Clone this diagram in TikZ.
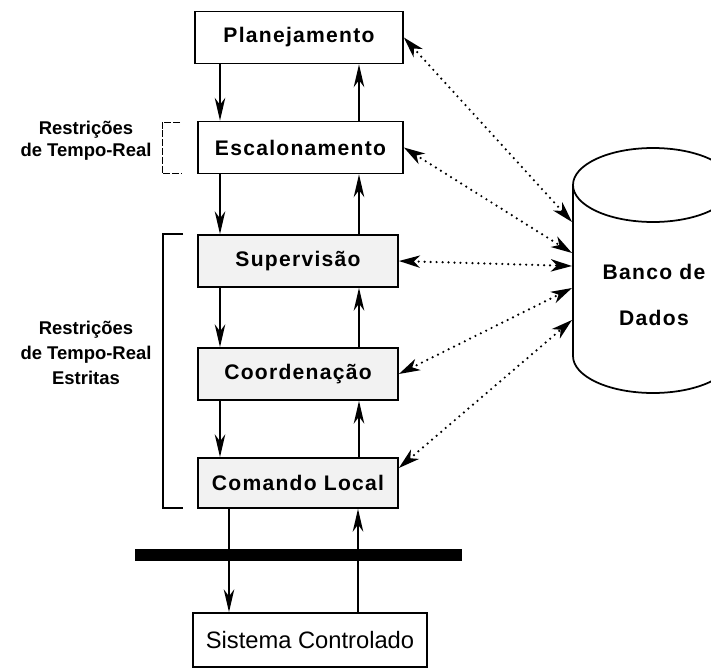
\documentclass[tikz,border=0pt]{standalone}
\usepackage{fontspec}
\setmainfont{Liberation Sans}
\newfontfamily\spacedfont[LetterSpace=6]{Liberation Sans}
\usetikzlibrary{arrows.meta, positioning}

\begin{document}
\begin{tikzpicture}[> = {Stealth[length=13pt, width=6pt, inset=4pt]},
			level/.style = {draw, line width=1pt, minimum width=4cm, minimum height=1.04cm,
				inner sep=0pt, font=\spacedfont\bfseries\fontsize{12}{14}\selectfont},
			rt level/.style = {level, fill=black!5},
			flow/.style = {->, line width=1pt},
			data/.style = {{Stealth[length=12pt, width=7pt, inset=3.5pt]}-{Stealth[length=12pt, width=7pt, inset=3.5pt]},
				line width=1.4pt, line cap=round, dash pattern=on 0pt off 3.4pt},
			note/.style = {align=center, font=\bfseries\fontsize{10.5}{12.5}\selectfont}]
			\useasboundingbox (0,0) rectangle (14.22,-13.36);
			\clip (0,0) rectangle (14.22,-13.36);
			
			% hierarquia de controle
			\node[level, minimum width=4.16cm] (plan) at (5.98,-0.75) {Planejamento};
			\node[level, minimum width=4.1cm] (esc) at (6.01,-2.95) {Escalonamento};
			\node[rt level] (sup) at (5.96,-5.22) {Supervisão};
			\node[rt level] (coord) at (5.96,-7.48) {Coordenação};
			\node[rt level, minimum height=1cm] (cmd) at (5.96,-9.66) {Comando Local};
			\node[level, minimum width=4.68cm, minimum height=1.08cm,
				font=\fontsize{13.5}{16}\selectfont] (sys) at (6.2,-12.8) {Sistema Controlado};
			%
			\coordinate (down) at (4.4,0);
			\coordinate (up) at (7.18,0);
			\coordinate (down2) at (4.58,0);
			\coordinate (up2) at (7.16,0);
			
			\draw[flow] (plan.south -| down) -- (esc.north -| down);
			\draw[flow] (esc.south -| down) -- (sup.north -| down);
			\draw[flow] (sup.south -| down) -- (coord.north -| down);
			\draw[flow] (coord.south -| down) -- (cmd.north -| down);
			\draw[flow] (cmd.south -| down2) -- (sys.north -| down2);
			%
			\draw[flow] (esc.north -| up) -- (plan.south -| up);
			\draw[flow] (sup.north -| up) -- (esc.south -| up);
			\draw[flow] (coord.north -| up) -- (sup.south -| up);
			\draw[flow] (cmd.north -| up) -- (coord.south -| up);
			\draw[flow] (sys.north -| up2) -- (cmd.south -| up2);
			
			% barramento
			\draw[line width=6.8pt] (2.7,-11.1) -- (9.24,-11.1);
			
			% chaves e rotulos
			\draw[line width=0.4pt, dash pattern=on 4pt off 1pt] (3.6,-2.44) -- (3.24,-2.44) -- (3.24,-3.46) -- (3.62,-3.46);
			\draw[line width=1.2pt] (3.66,-4.68) -- (3.26,-4.68) -- (3.26,-10.16) -- (3.66,-10.16);
			\node[note] (soft) at (1.72,-2.82) {Restrições\\de Tempo-Real};
			\node[note, font=\bfseries\fontsize{10.5}{14}\selectfont] (hard) at (1.72,-7.06) {Restrições\\de Tempo-Real\\Estritas};
			
			% banco de dados
			\draw[line width=1pt, fill=white] (11.46,-3.7) -- (11.46,-7.12) arc (180:360:1.6 and 0.74) -- (14.66,-3.7);
			\draw[line width=1pt, fill=white] (13.06,-3.7) ellipse (1.6 and 0.74);
			\node[align=center, font=\spacedfont\bfseries\fontsize{12}{26}\selectfont] (db) at (13.08,-5.9) {Banco de\\Dados};
			\coordinate (db1) at (11.44,-4.44);
			\coordinate (db2) at (11.44,-5.06);
			\coordinate (db3) at (11.44,-5.32);
			\coordinate (db4) at (11.44,-5.76);
			\coordinate (db5) at (11.44,-6.4);
			
			\draw[data] (plan.east) -- (db1);
			\draw[data] (esc.east) -- (db2);
			\draw[data] (sup.east) -- (db3);
			\draw[data] (coord.east) -- (db4);
			\draw[data] ([yshift=0.3cm]cmd.east) -- (db5);
		\end{tikzpicture}
\end{document}
